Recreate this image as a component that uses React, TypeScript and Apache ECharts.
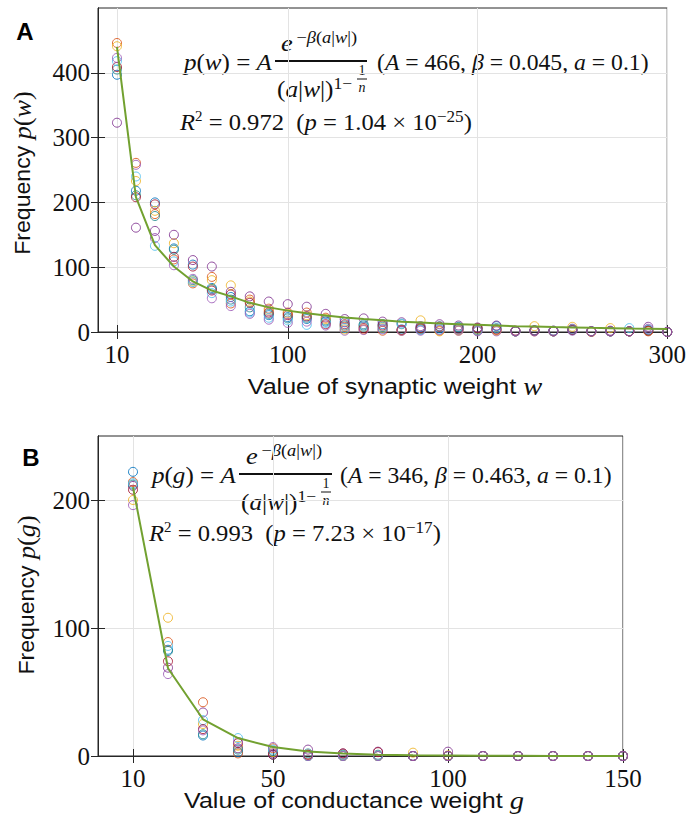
import React, { useEffect, useRef } from "react";
import * as echarts from "echarts";

// ---------- Panel A data ----------
const weightsA = [10, 20, 30, 40, 50, 60, 70, 80, 90, 100, 110, 120, 130, 140, 150, 160, 170, 180, 190, 200, 210, 220, 230, 240, 250, 260, 270, 280, 290, 300];
const runA1 = [397, 218, 200, 129, 104, 68, 54, 32, 26, 23, 20, 16, 15, 10, 12, 4, 7, 6, 7, 3, 9, 1, 2, 1, 3, 1, 1, 1, 2, 0];
const runA2 = [446, 261, 182, 112, 75, 85, 44, 50, 36, 30, 30, 22, 8, 4, 2, 2, 5, 2, 3, 2, 3, 2, 1, 2, 4, 0, 1, 1, 1, 0];
const runA3 = [441, 233, 187, 137, 78, 80, 72, 47, 33, 28, 26, 20, 4, 8, 6, 3, 18, 1, 2, 4, 2, 1, 9, 1, 8, 1, 6, 1, 2, 0];
const runA4 = [323, 161, 156, 150, 111, 101, 62, 55, 47, 43, 39, 28, 20, 21, 16, 15, 9, 12, 10, 7, 10, 2, 3, 2, 5, 1, 2, 1, 8, 0];
const runA5 = [405, 211, 179, 127, 80, 66, 50, 38, 28, 21, 22, 18, 10, 12, 8, 12, 4, 9, 8, 5, 6, 1, 2, 1, 3, 1, 1, 1, 3, 0];
const runA6 = [418, 240, 133, 109, 77, 60, 47, 30, 22, 18, 11, 14, 6, 8, 5, 13, 3, 4, 4, 2, 5, 1, 2, 2, 4, 1, 1, 6, 4, 0];
const runA7 = [409, 208, 197, 116, 101, 64, 58, 45, 30, 26, 24, 12, 12, 6, 10, 3, 6, 8, 5, 6, 4, 1, 2, 1, 3, 1, 1, 1, 2, 0];
const runA8 = [423, 258, 145, 103, 82, 52, 40, 28, 19, 14, 16, 10, 2, 3, 4, 2, 2, 3, 2, 1, 1, 1, 1, 1, 2, 1, 1, 1, 5, 0];
const fitA = [440, 208, 134, 101, 78, 64, 55, 45, 38, 33, 29, 25.6, 22.5, 20, 18, 16, 14.5, 13, 12, 11, 10, 9, 8.3, 7.6, 7, 6.4, 5.9, 5.4, 5, 4.7];

// ---------- Panel B data ----------
const weightsB = [10, 20, 30, 40, 50, 60, 70, 80, 90, 100, 110, 120, 130, 140, 150];
const runB1 = [222, 83, 16, 3, 1, 0, 0, 0, 0, 0, 0, 0, 0, 0, 0];
const runB2 = [214, 89, 42, 2, 6, 1, 0, 0, 0, 0, 0, 0, 0, 0, 0];
const runB3 = [200, 108, 25, 8, 3, 0, 0, 0, 2.6, 0.5, 0, 0, 0, 0, 0];
const runB4 = [211, 69, 34, 6, 2, 5, 2, 3.4, 0, 3.4, 0, 0, 0, 0, 0];
const runB5 = [212, 82, 17, 5, 4, 2, 1, 1, 0, 0, 0, 0, 0, 0, 0];
const runB6 = [213, 86, 28, 14, 5, 0, 0, 0, 0, 0, 0, 0, 0, 0, 0];
const runB7 = [208, 74, 21, 10, 1, 1, 2, 3, 0, 0, 0, 0, 0, 0, 0];
const runB8 = [196, 64, 20, 11, 7, 0, 0, 0, 0, 0, 0, 0, 0, 0, 0];
const fitB = [210, 68.6, 28.7, 14, 7, 3.6, 1.9, 1, 0.5, 0.3, 0.15, 0.1, 0.05, 0, 0];

// ---------- ticks ----------
const xTicksA = [10, 100, 200, 300];
const yTicksA = [0, 100, 200, 300, 400];
const xTicksB = [10, 50, 100, 150];
const yTicksB = [0, 100, 200];

const runColors = ["#0072BD", "#D95319", "#EDB120", "#7E2F8E", "#238A8D", "#4DBEEE", "#A2142F", "#9B59B6"];
const runsA = [runA1, runA2, runA3, runA4, runA5, runA6, runA7, runA8];
const runsB = [runB1, runB2, runB3, runB4, runB5, runB6, runB7, runB8];

const AX = "#262626";
const SERIF = "Liberation Serif";
const SANS = "Liberation Sans";
const TS = "\u2009";

function pairs(xs: number[], ys: number[]) {
  return xs.map((x, i) => [x, ys[i]]);
}

function xAxisPair(grid: number, max: number, ticks: number[]) {
  const common = {
    type: "value",
    gridIndex: grid,
    min: 0,
    max,
    axisLine: { show: true, lineStyle: { color: AX, width: 1 } },
    axisTick: { show: true, inside: true, length: 7, customValues: ticks, lineStyle: { color: AX } },
  };
  return [
    {
      ...common,
      position: "bottom",
      axisLabel: { show: true, customValues: ticks, color: "#111", fontFamily: SERIF, fontSize: 25, lineHeight: 20, margin: 12 },
      splitLine: { show: true, lineStyle: { color: "#E3E3E3", width: 1 } },
    },
    {
      ...common,
      position: "top",
      axisLabel: { show: false },
      splitLine: { show: false },
    },
  ];
}

function yAxisPair(grid: number, max: number, ticks: number[]) {
  const common = {
    type: "value",
    gridIndex: grid,
    min: 0,
    max,
    axisLine: { show: true, lineStyle: { color: AX, width: 1 } },
    axisTick: { show: true, inside: true, length: 7, customValues: ticks, lineStyle: { color: AX } },
  };
  return [
    {
      ...common,
      position: "left",
      axisLabel: { show: true, customValues: ticks, color: "#111", fontFamily: SERIF, fontSize: 25, lineHeight: 20, margin: 8 },
      splitLine: { show: true, lineStyle: { color: "#E3E3E3", width: 1 } },
    },
    {
      ...common,
      position: "right",
      axisLabel: { show: false },
      splitLine: { show: false },
    },
  ];
}

const mathRich = {
  i: { fontFamily: SERIF, fontStyle: "italic", fontSize: 23, lineHeight: 26, fill: "#111", verticalAlign: "middle" },
  r: { fontFamily: SERIF, fontSize: 23, lineHeight: 26, fill: "#111", verticalAlign: "middle" },
  sup: { fontFamily: SERIF, fontSize: 16, lineHeight: 16, fill: "#111", verticalAlign: "top" },
  supi: { fontFamily: SERIF, fontStyle: "italic", fontSize: 16, lineHeight: 16, fill: "#111", verticalAlign: "top" },
  sup2: { fontFamily: SERIF, fontSize: 14, lineHeight: 16, fill: "#111", verticalAlign: "top" },
};

function mtext(x: number, y: number, text: string, sx = 1) {
  return {
    type: "text",
    x,
    y,
    scaleX: sx,
    silent: true,
    style: {
      text,
      rich: mathRich,
      fill: "#111",
      align: "left",
      verticalAlign: "middle",
      textAlign: "left",
      textVerticalAlign: "middle",
    },
  };
}

function smallText(x: number, y: number, text: string, italic: boolean) {
  return {
    type: "text",
    x,
    y,
    silent: true,
    style: {
      text,
      fill: "#111",
      fontFamily: SERIF,
      fontStyle: italic ? "italic" : "normal",
      fontSize: 14,
      align: "center",
      verticalAlign: "middle",
      textAlign: "center",
      textVerticalAlign: "middle",
    },
  };
}

function hline(x1: number, x2: number, y: number, w: number) {
  return {
    type: "line",
    silent: true,
    shape: { x1, y1: y, x2, y2: y },
    style: { stroke: "#111", lineWidth: w },
  };
}

function equation(
  dx: number,
  y: number,
  varName: string,
  barX1: number,
  barX2: number,
  numX: number,
  denX: number,
  fracX: number,
  paramsX: number,
  params: string,
  r2X: number,
  r2Y: number,
  r2: string,
  pval: string,
  pexp: string
) {
  return [
    mtext(dx, y, `{i|p}{r|(}{i|${varName}}{r|) = }{i|A}`, 1.09),
    hline(barX1, barX2, y - 1, 2),
    mtext(numX, y - 19, `{i|e}{sup|${TS}−}{supi|β}{sup|(}{supi|a}{sup||}{supi|w}{sup||)}`, 1.15),
    mtext(denX, y + 27, `{r|(}{i|a}{r||}{i|w}{r||)}{sup|1−}`, 1.1),
    smallText(fracX, y + 8, "1", false),
    hline(fracX - 5, fracX + 5, y + 17, 1),
    smallText(fracX, y + 25, "n", true),
    mtext(paramsX, y, params, 1.03),
    mtext(r2X, r2Y, `{i|R}{sup2|2}{r| = ${r2}  (}{i|p}{r| = ${pval} × 10}{sup|${pexp}}{r|)}`, 1.07),
  ];
}

function titleText(x: number, y: number, text: string, rotate: boolean, sx: number) {
  return {
    type: "text",
    x,
    y,
    rotation: rotate ? Math.PI / 2 : 0,
    scaleX: sx,
    silent: true,
    style: {
      text,
      rich: {
        s: { fontFamily: SANS, fontSize: 22, lineHeight: 22, fill: "#111" },
        m: { fontFamily: SERIF, fontStyle: "italic", fontSize: 25, lineHeight: 22, fill: "#111" },
        r: { fontFamily: SERIF, fontSize: 25, lineHeight: 22, fill: "#111" },
      },
      align: "center",
      verticalAlign: "middle",
      textAlign: "center",
      textVerticalAlign: "middle",
    },
  };
}

function panelLetter(x: number, y: number, t: string) {
  return {
    type: "text",
    x,
    y,
    silent: true,
    style: {
      text: t,
      fill: "#000",
      fontFamily: SANS,
      fontWeight: "bold",
      fontSize: 24,
      align: "center",
      verticalAlign: "middle",
      textAlign: "center",
      textVerticalAlign: "middle",
    },
  };
}

export default function App() {
  const ref = useRef<HTMLDivElement>(null);

  useEffect(() => {
    if (!ref.current) return;
    const chart = echarts.init(ref.current, null, { renderer: "svg" });

    const scatter = (runs: number[][], xs: number[], axisIdx: number, tag: string) =>
      runs.map((ys, k) => ({
        name: `${tag} run ${k + 1}`,
        type: "scatter",
        xAxisIndex: axisIdx,
        yAxisIndex: axisIdx,
        symbol: "circle",
        symbolSize: 9,
        data: pairs(xs, ys),
        itemStyle: { color: "rgba(0,0,0,0)", borderColor: runColors[k], borderWidth: 1, opacity: 0.85 },
        emphasis: { disabled: true },
        z: 2,
      }));

    const fitLine = (xs: number[], ys: number[], axisIdx: number, tag: string) => ({
      name: `${tag} fit`,
      type: "line",
      xAxisIndex: axisIdx,
      yAxisIndex: axisIdx,
      data: pairs(xs, ys),
      symbol: "none",
      smooth: false,
      lineStyle: { color: "#72A130", width: 2 },
      z: 3,
    });

    const xA = xAxisPair(0, 300, xTicksA);
    const xB = xAxisPair(1, 150, xTicksB);
    const yA = yAxisPair(0, 500, yTicksA);
    const yB = yAxisPair(1, 250, yTicksB);

    const option: any = {
      animation: false,
      backgroundColor: "#ffffff",
      grid: [
        { left: 98, top: 8, width: 573, height: 324, show: true, borderColor: AX, borderWidth: 1, backgroundColor: "transparent" },
        { left: 98, top: 436, width: 525, height: 320, show: true, borderColor: AX, borderWidth: 1, backgroundColor: "transparent" },
      ],
      xAxis: [xA[0], xA[1], xB[0], xB[1]],
      yAxis: [yA[0], yA[1], yB[0], yB[1]],
      series: [
        ...scatter(runsA, weightsA, 0, "A"),
        fitLine(weightsA, fitA, 0, "A"),
        ...scatter(runsB, weightsB, 2, "B"),
        fitLine(weightsB, fitB, 2, "B"),
      ],
      graphic: {
        elements: [
          panelLetter(25, 31, "A"),
          panelLetter(31, 457, "B"),
          titleText(395, 387, "{s|Value of synaptic weight }{m|w}", false, 1.14),
          titleText(354, 801, "{s|Value of conductance weight }{m|g}", false, 1.14),
          titleText(23, 173, "{s|Frequency }{m|p}{r|(}{m|w}{r|)}", true, 1.05),
          titleText(27, 595, "{s|Frequency }{m|p}{r|(}{m|g}{r|)}", true, 1.05),
          ...equation(184, 62, "w", 275, 367, 281, 277, 362, 377,
            "{r|(}{i|A}{r| = 466, }{i|β}{r| = 0.045, }{i|a}{r| = 0.1)}",
            180, 122, "0.972", "1.04", "−25"),
          ...equation(152, 475, "g", 239, 332, 246, 241, 326, 340,
            "{r|(}{i|A}{r| = 346, }{i|β}{r| = 0.463, }{i|a}{r| = 0.1)}",
            149, 533, "0.993", "7.23", "−17"),
        ],
      },
    };

    chart.setOption(option);
    return () => chart.dispose();
  }, []);

  return (
    <div
      ref={ref}
      style={{ position: "absolute", left: 0, top: 0, width: 689, height: 819, background: "#fff" }}
    />
  );
}
